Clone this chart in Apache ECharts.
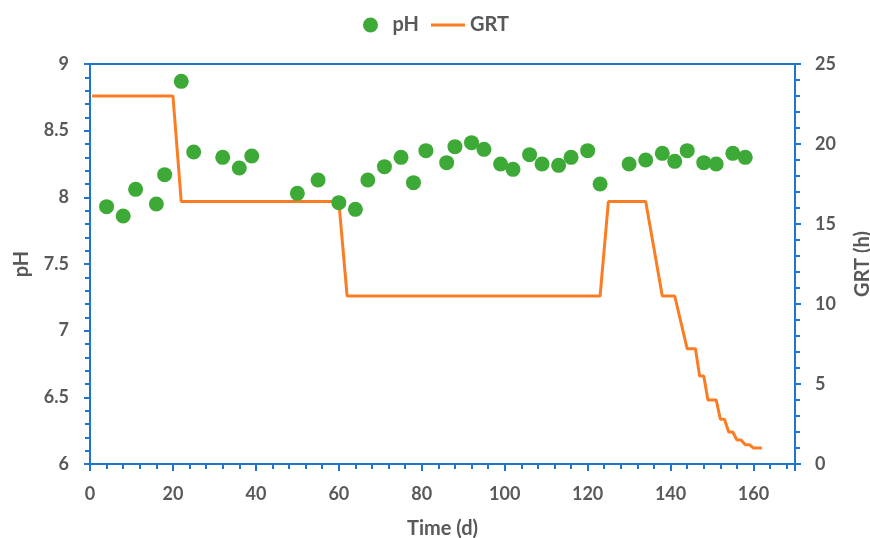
<!DOCTYPE html>
<html>
<head>
<meta charset="utf-8">
<script src="https://cdn.jsdelivr.net/npm/echarts@6/dist/echarts.min.js"></script>
<style>
  html, body { margin: 0; padding: 0; background: #fff; }
  #chart { width: 870px; height: 538px; }
</style>
</head>
<body>
<div id="chart"></div>
<script>
// pH measurements (day, pH)
const phDays = [4, 8, 11, 16, 18, 22, 25, 32, 36, 39, 50, 55, 60, 64, 67, 71, 75, 78, 81, 86,
  88, 92, 95, 99, 102, 106, 109, 113, 116, 120, 123, 130, 134, 138, 141, 144, 148, 151, 155, 158];
const phValues = [7.93, 7.86, 8.06, 7.95, 8.17, 8.87, 8.34, 8.30, 8.22, 8.31, 8.03, 8.13, 7.96, 7.91, 8.13, 8.23, 8.30, 8.11, 8.35, 8.26,
  8.38, 8.41, 8.36, 8.25, 8.21, 8.32, 8.25, 8.24, 8.30, 8.35, 8.10, 8.25, 8.28, 8.33, 8.27, 8.35, 8.26, 8.25, 8.33, 8.30];

// gas residence time profile (day, hours)
const grtDays = [0.5, 20, 22, 60, 62, 123, 125, 134, 138, 141, 144, 146, 147, 148, 149, 151, 152, 153, 154, 155, 156, 157, 158, 159, 160, 162];
const grtValues = [23, 23, 16.4, 16.4, 10.5, 10.5, 16.4, 16.4, 10.5, 10.5, 7.2, 7.2, 5.5, 5.5, 4, 4, 2.8, 2.8, 2, 2, 1.5, 1.5, 1.2, 1.2, 1, 1];

const axisBlue = '#1f74cc';
const textGrey = '#595959';
const font = 'Lato, "Open Sans", sans-serif';

const chart = echarts.init(document.getElementById('chart'));

const tickLabelStyle = { color: textGrey, fontFamily: font, fontWeight: 'bold', fontSize: 18 };
const nameStyle = { color: textGrey, fontFamily: font, fontWeight: 'bold', fontSize: 20 };

// thin horizontal bar inside a 34x15 box, used as the line legend icon
const lineIcon = 'path://M0,0 M34,15 M0,6 L34,6 L34,9 L0,9 Z';

const option = {
  animation: false,
  legend: {
    top: 10,
    left: 358,
    itemWidth: 34,
    itemHeight: 15,
    itemGap: 12,
    textStyle: { color: textGrey, fontFamily: font, fontWeight: 'bold', fontSize: 20 },
    data: [{ name: 'pH', icon: 'circle' }, { name: 'GRT', icon: lineIcon }]
  },
  grid: {
    left: 90,
    right: 75,
    top: 64,
    bottom: 74,
    outerBoundsMode: 'none',
    show: true,
    borderColor: axisBlue,
    borderWidth: 2
  },
  xAxis: {
    type: 'value',
    min: 0,
    max: 170,
    interval: 20,
    name: 'Time (d)',
    nameLocation: 'middle',
    nameGap: 55,
    nameTextStyle: nameStyle,
    splitLine: { show: false },
    axisLine: { lineStyle: { color: axisBlue, width: 2 } },
    axisTick: { length: 7, lineStyle: { color: axisBlue, width: 2 } },
    minorTick: { show: true, splitNumber: 5, length: 5, lineStyle: { color: axisBlue, width: 2 } },
    axisLabel: Object.assign({ margin: 21, formatter: v => (v % 20 === 0 ? String(v) : '') }, tickLabelStyle)
  },
  yAxis: [
    {
      type: 'value',
      min: 6,
      max: 9,
      interval: 0.5,
      name: 'pH',
      nameLocation: 'middle',
      nameGap: 58,
      nameTextStyle: nameStyle,
      splitLine: { show: false },
      axisLine: { show: true, lineStyle: { color: axisBlue, width: 2 } },
      axisTick: { show: true, length: 6, lineStyle: { color: axisBlue, width: 2 } },
      minorTick: { show: true, splitNumber: 5, length: 5, lineStyle: { color: axisBlue, width: 2 } },
      axisLabel: Object.assign({ margin: 21 }, tickLabelStyle)
    },
    {
      type: 'value',
      min: 0,
      max: 25,
      interval: 5,
      position: 'right',
      name: 'GRT (h)',
      nameLocation: 'middle',
      nameGap: 58,
      nameRotate: 90,
      nameTextStyle: nameStyle,
      splitLine: { show: false },
      axisLine: { show: true, lineStyle: { color: axisBlue, width: 2 } },
      axisTick: { show: true, length: 6, lineStyle: { color: axisBlue, width: 2 } },
      minorTick: { show: true, splitNumber: 5, length: 5, lineStyle: { color: axisBlue, width: 2 } },
      axisLabel: Object.assign({ margin: 20 }, tickLabelStyle)
    }
  ],
  series: [
    {
      name: 'pH',
      type: 'scatter',
      yAxisIndex: 0,
      symbol: 'circle',
      symbolSize: 15,
      itemStyle: { color: '#3da936', opacity: 1 },
      data: phDays.map((d, i) => [d, phValues[i]]),
      z: 3
    },
    {
      name: 'GRT',
      type: 'line',
      yAxisIndex: 1,
      symbol: 'none',
      lineStyle: { color: '#fb7d23', width: 3 },
      itemStyle: { color: '#fb7d23' },
      data: grtDays.map((d, i) => [d, grtValues[i]]),
      z: 2
    }
  ]
};

chart.setOption(option);
</script>
</body>
</html>
